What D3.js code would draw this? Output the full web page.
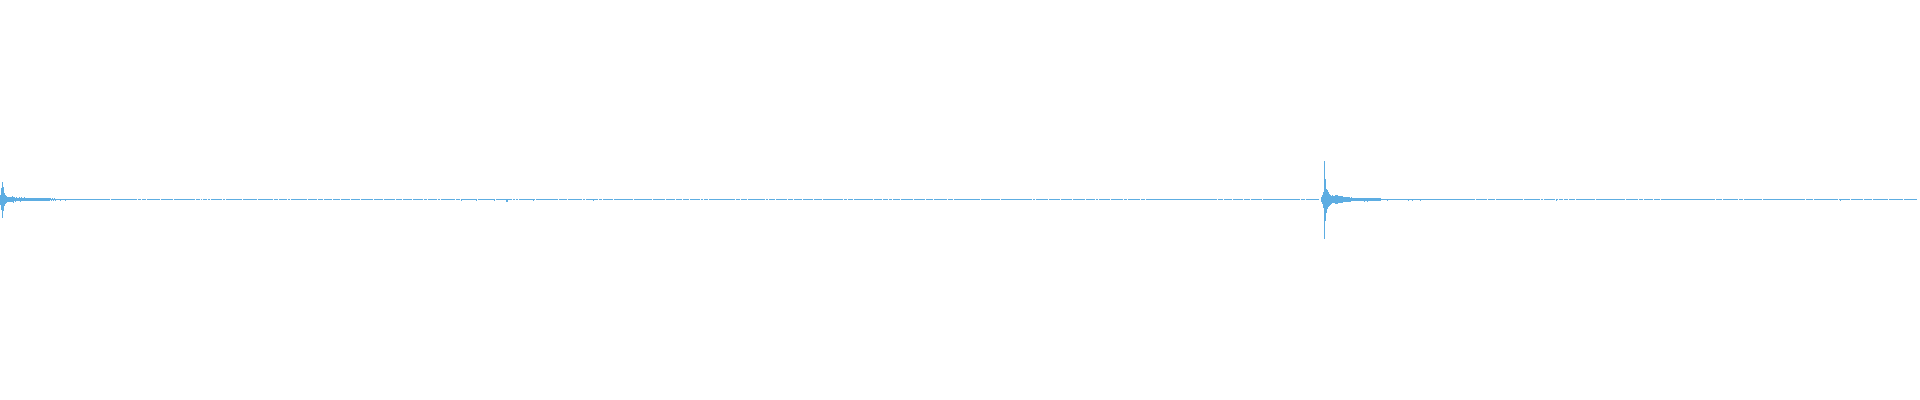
<!DOCTYPE html>
<html>
<head>
<meta charset="utf-8">
<script src="https://cdn.jsdelivr.net/npm/d3@7"></script>
<style>
  html, body { margin: 0; padding: 0; background: #ffffff; }
  svg { display: block; }
</style>
</head>
<body>
<div id="wave"></div>
<script>
// chart size
var svgWidth = 1920;
var svgHeight = 400;

// total number of columns (samples) in the trace
var sampleCount = 1917;

// quiet level of the trace between the bursts
var noiseFloor = 0.0025;

// first burst, starting at column 0 (upper and lower envelope)
var burstOneStart = 0;
var burstOneMax = [0.024, 0.058, 0.088, 0.063, 0.033, 0.023, 0.017, 0.015, 0.013, 0.012,
  0.015, 0.014, 0.016, 0.015, 0.011, 0.010, 0.011, 0.009, 0.010, 0.011,
  0.010, 0.011, 0.009, 0.010, 0.011, 0.009, 0.010, 0.008, 0.009, 0.010,
  0.008, 0.009, 0.007, 0.008, 0.007, 0.006, 0.007, 0.008, 0.007, 0.006,
  0.007, 0.007, 0.008, 0.007, 0.006, 0.007, 0.007, 0.006, 0.007, 0.006,
  0.006, 0.005, 0.006, 0.005, 0.006, 0.005, 0.005];
var burstOneMin = [-0.026, -0.053, -0.093, -0.058, -0.033, -0.023, -0.016, -0.015, -0.012, -0.012,
  -0.014, -0.015, -0.015, -0.016, -0.010, -0.011, -0.010, -0.010, -0.009, -0.010,
  -0.011, -0.010, -0.010, -0.009, -0.010, -0.010, -0.009, -0.009, -0.008, -0.010,
  -0.009, -0.008, -0.007, -0.007, -0.008, -0.007, -0.006, -0.007, -0.008, -0.007,
  -0.006, -0.007, -0.007, -0.008, -0.007, -0.006, -0.007, -0.007, -0.006, -0.007,
  -0.005, -0.006, -0.005, -0.006, -0.005, -0.006, -0.005];

// second burst, starting at column 1321
var burstTwoStart = 1321;
var burstTwoMax = [0.015, 0.025, 0.040, 0.193, 0.104, 0.053, 0.046, 0.040, 0.030, 0.025,
  0.020, 0.021, 0.019, 0.020, 0.024, 0.023, 0.025, 0.020, 0.017, 0.018,
  0.016, 0.017, 0.015, 0.013, 0.014, 0.012, 0.013, 0.011, 0.012, 0.010,
  0.011, 0.010, 0.009, 0.010, 0.008, 0.009, 0.008, 0.008, 0.009, 0.007,
  0.008, 0.007, 0.008, 0.007, 0.007, 0.008, 0.007, 0.007, 0.007, 0.006,
  0.007, 0.006, 0.007, 0.006, 0.006, 0.007, 0.006, 0.006, 0.006, 0.006,
  0.005, 0.005, 0.005, 0.005, 0.005, 0.005, 0.005, 0.005, 0.005, 0.005,
  0.005, 0.005, 0.005, 0.005, 0.005, 0.005, 0.005, 0.005, 0.005, 0.005,
  0.004, 0.004, 0.004, 0.004];
var burstTwoMin = [-0.015, -0.025, -0.042, -0.196, -0.106, -0.068, -0.050, -0.040, -0.031, -0.026,
  -0.021, -0.020, -0.020, -0.019, -0.023, -0.025, -0.024, -0.019, -0.018, -0.017,
  -0.017, -0.016, -0.014, -0.014, -0.013, -0.013, -0.012, -0.012, -0.011, -0.011,
  -0.010, -0.010, -0.010, -0.009, -0.009, -0.008, -0.009, -0.008, -0.008, -0.008,
  -0.007, -0.008, -0.007, -0.008, -0.007, -0.007, -0.008, -0.007, -0.007, -0.007,
  -0.006, -0.007, -0.006, -0.007, -0.006, -0.006, -0.007, -0.006, -0.006, -0.006,
  -0.005, -0.005, -0.005, -0.005, -0.005, -0.005, -0.005, -0.005, -0.005, -0.005,
  -0.005, -0.005, -0.005, -0.005, -0.005, -0.005, -0.005, -0.005, -0.005, -0.005,
  -0.004, -0.004, -0.004, -0.004];

// columns where the trace is silent (no mark drawn)
var silentCols = [110, 137, 141, 146, 160, 173, 195, 200, 202, 207, 210, 222, 225, 242, 257,
  273, 278, 287, 290, 307, 317, 323, 332, 340, 350, 360, 373, 383, 395,
  402, 412, 423, 427, 437, 440, 455, 460, 477, 495, 512, 515, 518, 535, 558, 567,
  582, 585, 598, 602, 613, 633, 652, 665, 675, 682, 689, 700, 703, 708, 735, 740,
  747, 765, 768, 775, 787, 793, 802, 813, 822, 843, 847, 853, 873, 882, 888, 892,
  900, 913, 925, 933, 947, 953, 980, 1000, 1032, 1035, 1048, 1060, 1072, 1085,
  1095, 1098, 1110, 1123, 1127, 1140, 1145, 1217, 1223, 1232, 1243, 1250, 1262,
  1300, 1305, 1319, 1320, 1475, 1487, 1495, 1523, 1540, 1543, 1555, 1558, 1563,
  1568, 1575, 1595, 1625, 1638, 1643, 1653, 1660, 1715, 1722, 1738, 1743, 1762,
  1805, 1813, 1838, 1850, 1863, 1872, 1888, 1903];

// small single-column dips below the trace
var blipCols = [60, 65, 461, 476, 494, 506, 507, 533, 593, 1364, 1367, 1373, 1387, 1408, 1412, 1420, 1523, 1556, 1840];
var blipMin = [-0.008, -0.008, -0.010, -0.010, -0.010, -0.012, -0.012, -0.010, -0.010, -0.012, -0.012, -0.010, -0.010, -0.008, -0.008, -0.008, -0.010, -0.010, -0.010];

var svg = d3.select("#wave")
  .append("svg")
  .attr("width", svgWidth)
  .attr("height", svgHeight);

var xScale = d3.scaleLinear()
  .domain([0, svgWidth])
  .range([0, svgWidth]);

var yScale = d3.scaleLinear()
  .domain([-1, 1])
  .range([svgHeight - 1, 0]);

// build the column envelope
var silent = new Set(silentCols);
var columns = [];
for (var i = 0; i < sampleCount; i++) {
  if (silent.has(i)) continue;
  columns.push({ x: i, max: noiseFloor, min: -noiseFloor });
}
var byX = new Map(columns.map(d => [d.x, d]));

function applyBurst(start, maxs, mins) {
  maxs.forEach(function(v, k) {
    var col = byX.get(start + k);
    if (!col) {
      col = { x: start + k, max: noiseFloor, min: -noiseFloor };
      columns.push(col);
      byX.set(col.x, col);
    }
    col.max = Math.max(v, noiseFloor);
    col.min = Math.min(mins[k], -noiseFloor);
  });
}
applyBurst(burstOneStart, burstOneMax, burstOneMin);
applyBurst(burstTwoStart, burstTwoMax, burstTwoMin);

blipCols.forEach(function(c, k) {
  var col = byX.get(c);
  if (col) col.min = Math.min(col.min, blipMin[k]);
});

svg.append("g")
  .selectAll("rect")
  .data(columns)
  .enter()
  .append("rect")
  .attr("x", d => xScale(d.x))
  .attr("width", d => xScale(d.x + 1) - xScale(d.x))
  .attr("y", d => yScale(d.max))
  .attr("height", d => yScale(d.min) - yScale(d.max))
  .attr("fill", "#5dade2")
  .attr("shape-rendering", "crispEdges");
</script>
</body>
</html>
